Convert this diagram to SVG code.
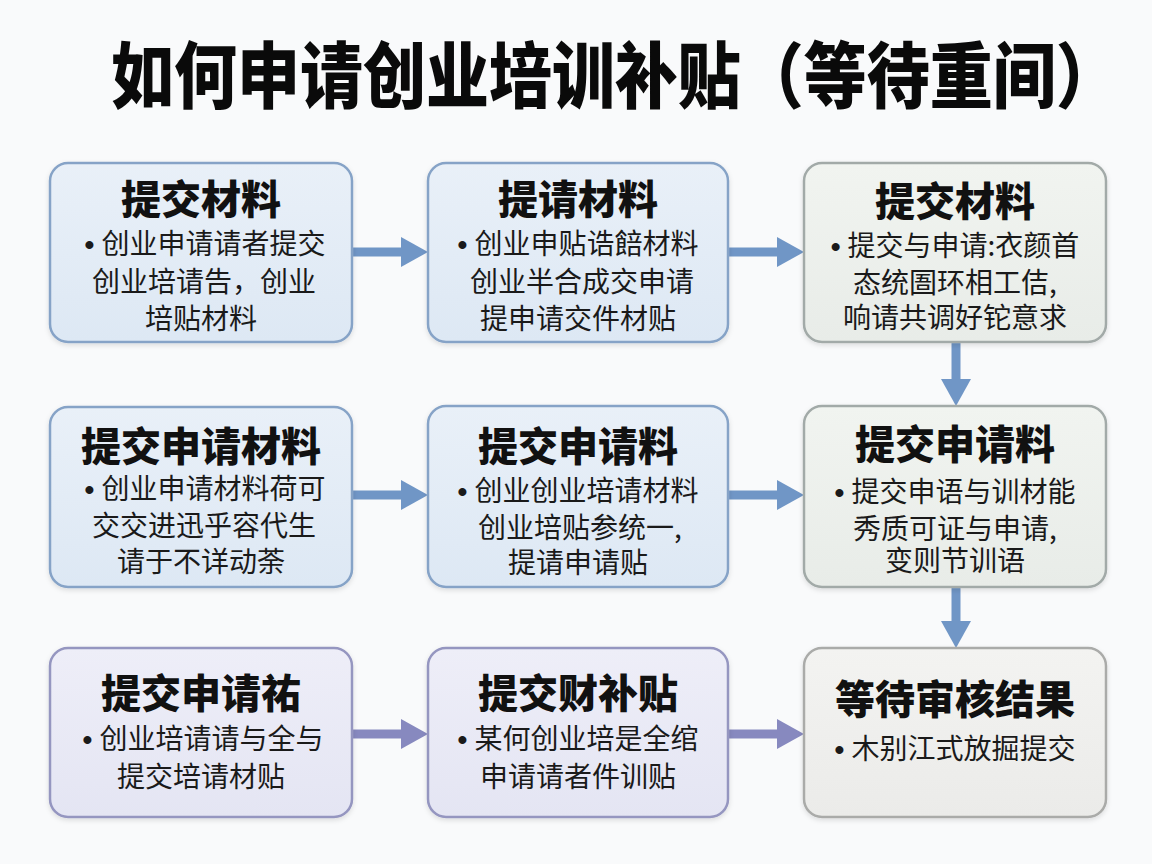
<svg xmlns="http://www.w3.org/2000/svg" width="1152" height="864" viewBox="0 0 1152 864">
  <defs>
    <style>
      .title { font-family: "Noto Sans CJK SC", "Noto Sans", sans-serif; font-weight: 900; font-size: 63px; fill: #0a0a0a; }
      .head { font-family: "Noto Sans CJK SC", "Noto Sans", sans-serif; font-weight: 900; font-size: 40px; fill: #111111; text-anchor: middle; }
      .body { font-family: "Noto Sans CJK SC", "Noto Sans", sans-serif; font-weight: 400; font-size: 28px; fill: #1a1a1a; text-anchor: middle; }
      .bul { font-family: "Liberation Sans", "DejaVu Sans", sans-serif; font-weight: 700; }
      .box { stroke-width: 2.5; }
      .blue { fill: url(#gBlue); stroke: #86a3c7; }
      .green { fill: url(#gGreen); stroke: #a2aaa8; }
      .violet { fill: url(#gViolet); stroke: #9596c0; }
      .grey { fill: url(#gGrey); stroke: #aaaba9; }
      .arrB { stroke: #7096c6; stroke-width: 9; fill: none; marker-end: url(#headB); }
      .arrP { stroke: #8789bf; stroke-width: 9; fill: none; marker-end: url(#headP); }
    </style>
    <linearGradient id="gBlue" x1="0" y1="0" x2="0" y2="1">
      <stop offset="0" stop-color="#e9f0f8"/>
      <stop offset="1" stop-color="#dde8f4"/>
    </linearGradient>
    <linearGradient id="gGreen" x1="0" y1="0" x2="0" y2="1">
      <stop offset="0" stop-color="#f1f4f0"/>
      <stop offset="1" stop-color="#e8ece8"/>
    </linearGradient>
    <linearGradient id="gViolet" x1="0" y1="0" x2="0" y2="1">
      <stop offset="0" stop-color="#eeeef8"/>
      <stop offset="1" stop-color="#e4e5f3"/>
    </linearGradient>
    <linearGradient id="gGrey" x1="0" y1="0" x2="0" y2="1">
      <stop offset="0" stop-color="#f3f3f1"/>
      <stop offset="1" stop-color="#ebebe9"/>
    </linearGradient>
    <filter id="shadow" x="-10%" y="-10%" width="120%" height="125%">
      <feDropShadow dx="0" dy="2" stdDeviation="2.5" flood-color="#000000" flood-opacity="0.12"/>
    </filter>
    <marker id="headB" viewBox="0 0 27 30" refX="0" refY="15" markerWidth="27" markerHeight="30" markerUnits="userSpaceOnUse" orient="auto">
      <path d="M0,0 L27,15 L0,30 Z" fill="#7096c6"/>
    </marker>
    <marker id="headP" viewBox="0 0 27 30" refX="0" refY="15" markerWidth="27" markerHeight="30" markerUnits="userSpaceOnUse" orient="auto">
      <path d="M0,0 L27,15 L0,30 Z" fill="#8789bf"/>
    </marker>
  </defs>

  <rect x="0" y="0" width="1152" height="864" fill="#f9fafb"/>

  <text class="title" x="111" y="99" transform="matrix(1 0 0 1.13 0 -9.4)">如何申请创业培训补贴（等待重间）</text>

  <g id="connectors">
    <path class="arrB" d="M352,252 L401,252"/>
    <path class="arrB" d="M728,252 L777,252"/>
    <path class="arrB" d="M956,342 L956,379"/>
    <path class="arrB" d="M352,495 L401,495"/>
    <path class="arrB" d="M728,495 L777,495"/>
    <path class="arrB" d="M956,587 L956,621"/>
    <path class="arrP" d="M352,734 L401,734"/>
    <path class="arrP" d="M728,734 L777,734"/>
  </g>

  <g id="node1">
    <rect class="box blue" x="50" y="163" width="302" height="179" rx="18" filter="url(#shadow)"/>
    <text class="head" x="201" y="214">提交材料</text>
    <text class="body" x="205" y="254"><tspan class="bul">•</tspan><tspan dx="7">创业申请请者提交</tspan></text>
    <text class="body" x="204" y="292">创业培请告，创业</text>
    <text class="body" x="201" y="329">培贴材料</text>
  </g>

  <g id="node2">
    <rect class="box blue" x="428" y="163" width="300" height="179" rx="18" filter="url(#shadow)"/>
    <text class="head" x="578" y="214">提请材料</text>
    <text class="body" x="578" y="254"><tspan class="bul">•</tspan><tspan dx="7">创业申贴诰餢材料</tspan></text>
    <text class="body" x="582" y="292">创业半合成交申请</text>
    <text class="body" x="578" y="329">提申请交件材贴</text>
  </g>

  <g id="node3">
    <rect class="box green" x="804" y="163" width="302" height="179" rx="18" filter="url(#shadow)"/>
    <text class="head" x="955" y="216">提交材料</text>
    <text class="body" x="955" y="256"><tspan class="bul">•</tspan><tspan dx="7">提交与申请:衣颜首</tspan></text>
    <text class="body" x="955" y="293">态统圄环相工佶,</text>
    <text class="body" x="955" y="328">响请共调好铊意求</text>
  </g>

  <g id="node4">
    <rect class="box blue" x="50" y="407" width="302" height="180" rx="18" filter="url(#shadow)"/>
    <text class="head" x="201" y="461">提交申请材料</text>
    <text class="body" x="205" y="499"><tspan class="bul">•</tspan><tspan dx="7">创业申请材料荷可</tspan></text>
    <text class="body" x="204" y="536">交交进迅乎容代生</text>
    <text class="body" x="201" y="572">请于不详动荼</text>
  </g>

  <g id="node5">
    <rect class="box blue" x="428" y="406" width="300" height="181" rx="18" filter="url(#shadow)"/>
    <text class="head" x="578" y="461">提交申请料</text>
    <text class="body" x="578" y="501"><tspan class="bul">•</tspan><tspan dx="7">创业创业培请材料</tspan></text>
    <text class="body" x="580" y="538">创业培贴参统一,</text>
    <text class="body" x="578" y="573">提请申请贴</text>
  </g>

  <g id="node6">
    <rect class="box green" x="804" y="406" width="302" height="181" rx="18" filter="url(#shadow)"/>
    <text class="head" x="955" y="459">提交申请料</text>
    <text class="body" x="955" y="502"><tspan class="bul">•</tspan><tspan dx="7">提交申语与训材能</tspan></text>
    <text class="body" x="955" y="539">秀质可证与申请,</text>
    <text class="body" x="955" y="571">变则节训语</text>
  </g>

  <g id="node7">
    <rect class="box violet" x="50" y="648" width="302" height="169" rx="18" filter="url(#shadow)"/>
    <text class="head" x="201" y="708">提交申请祐</text>
    <text class="body" x="203" y="749"><tspan class="bul">•</tspan><tspan dx="7">创业培请请与全与</tspan></text>
    <text class="body" x="201" y="787">提交培请材贴</text>
  </g>

  <g id="node8">
    <rect class="box violet" x="428" y="648" width="300" height="169" rx="18" filter="url(#shadow)"/>
    <text class="head" x="578" y="708">提交财补贴</text>
    <text class="body" x="578" y="749"><tspan class="bul">•</tspan><tspan dx="7">某何创业培是全绾</tspan></text>
    <text class="body" x="578" y="787">申请请者件训贴</text>
  </g>

  <g id="node9">
    <rect class="box grey" x="804" y="648" width="302" height="169" rx="18" filter="url(#shadow)"/>
    <text class="head" x="955" y="714">等待审核结果</text>
    <text class="body" x="955" y="759"><tspan class="bul">•</tspan><tspan dx="7">木别江式放掘提交</tspan></text>
  </g>
</svg>
